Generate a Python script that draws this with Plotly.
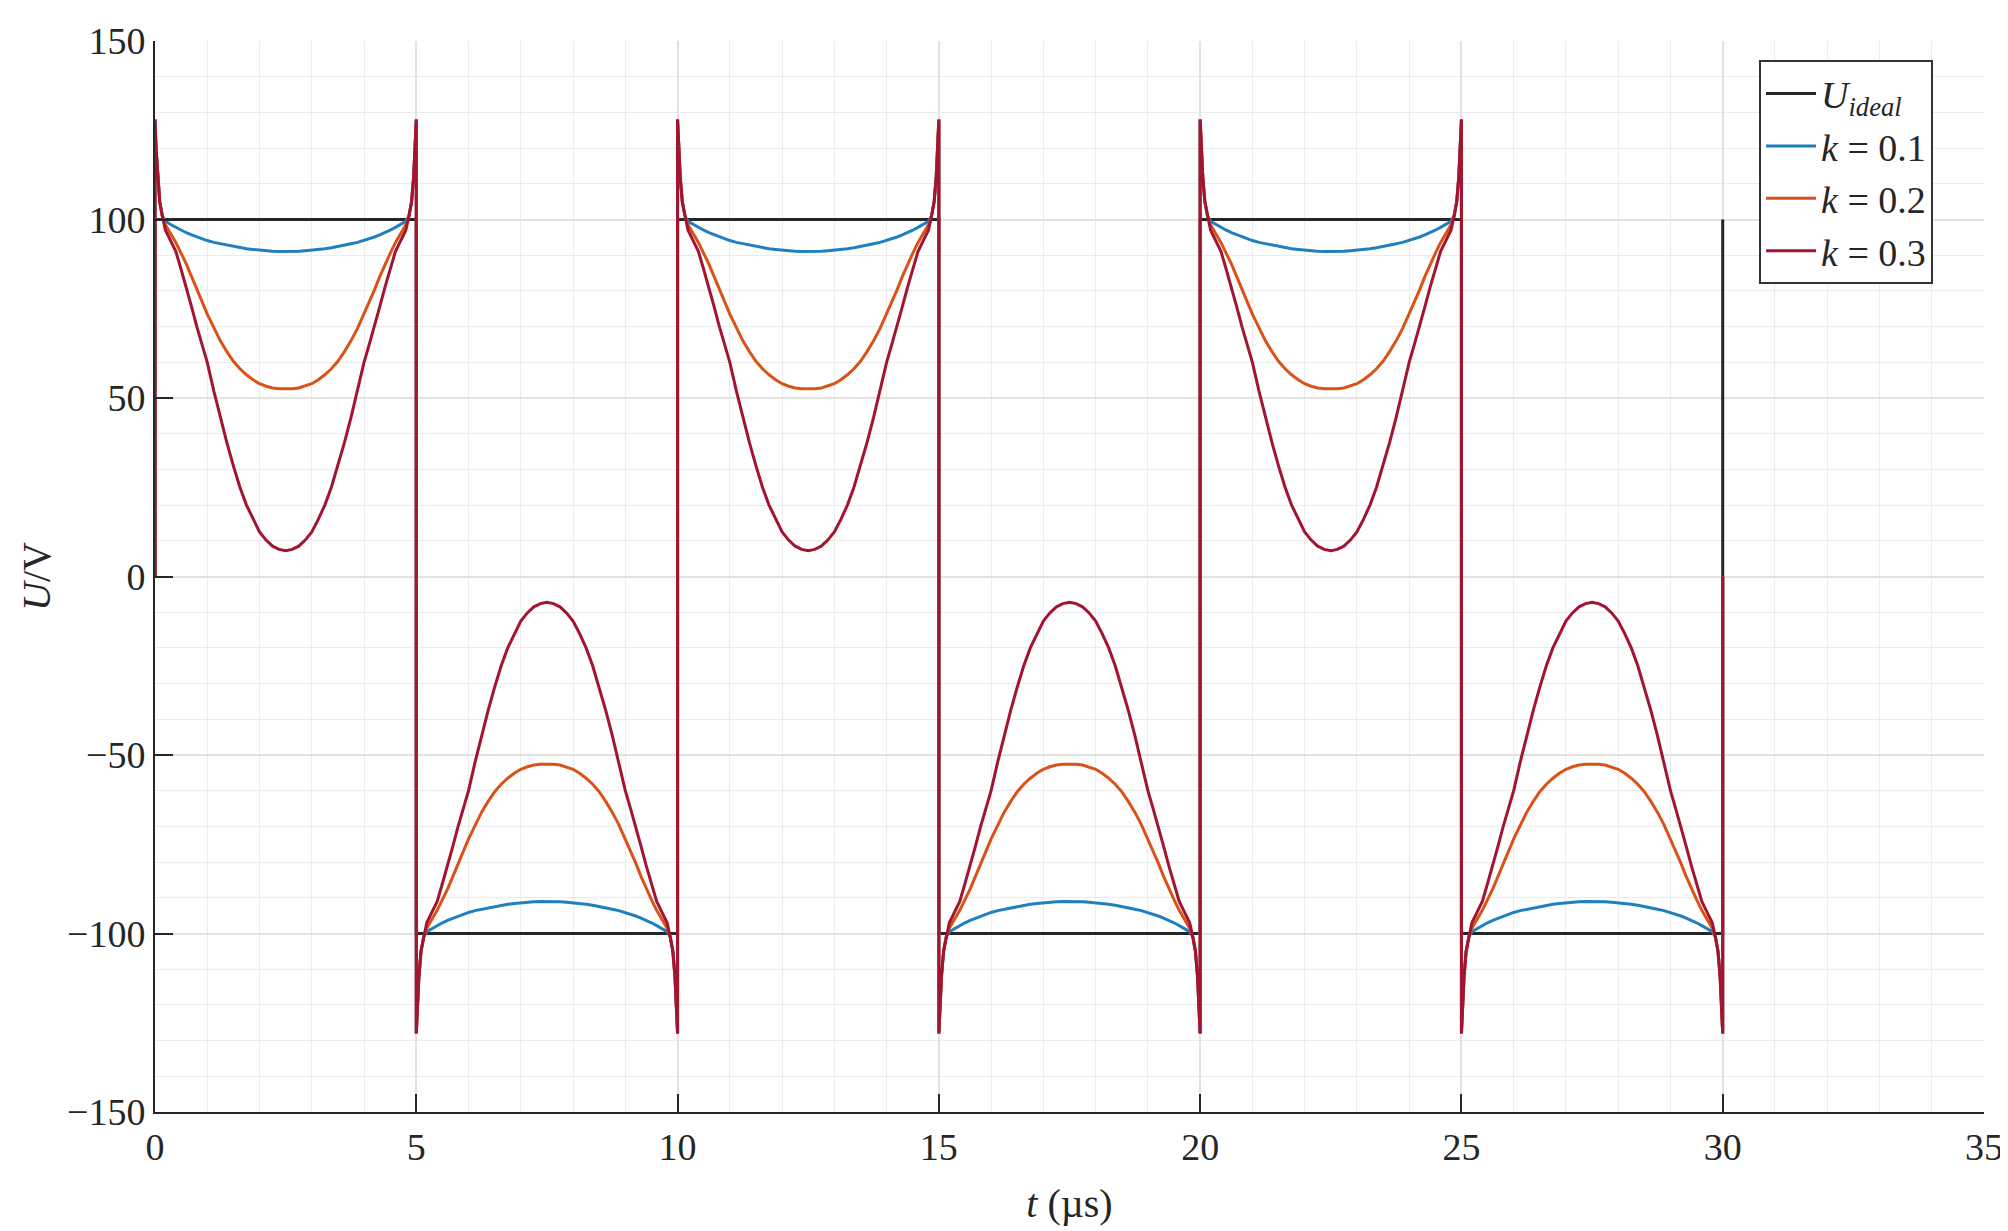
import plotly.graph_objects as go

# Ideal square wave (V) over t (µs)
ideal_t = [0, 0, 5, 5, 10, 10, 15, 15, 20, 20, 25, 25, 30, 30]
ideal_u = [0, 100, 100, -100, -100, 100, 100, -100, -100, 100, 100, -100, -100, 100]

# One half period (positive polarity), offsets in µs
half_t = [0, 0.02, 0.05, 0.09, 0.14,
          0.2, 0.3, 0.4, 0.5, 0.6, 0.7, 0.8, 0.9, 1.0, 1.125, 1.25, 1.375, 1.5, 1.625, 1.75, 1.875,
          2.0, 2.125, 2.25, 2.375, 2.5,
          2.625, 2.75, 2.875, 3.0, 3.125, 3.25, 3.375, 3.5, 3.625, 3.75, 3.875, 4.0, 4.1, 4.2, 4.3,
          4.4, 4.5, 4.6, 4.7, 4.8,
          4.86, 4.91, 4.95, 4.98, 5.0]
half_k01 = [128, 120, 112, 105, 101,
            99.5, 98.6, 97.8, 97.0, 96.3, 95.7, 95.1, 94.6, 94.1, 93.6, 93.2, 92.8, 92.4, 92.1, 91.8, 91.6,
            91.4, 91.25, 91.1, 91.05, 91.0,
            91.05, 91.1, 91.25, 91.4, 91.6, 91.8, 92.1, 92.4, 92.8, 93.2, 93.6, 94.1, 94.6, 95.1, 95.7,
            96.3, 97.0, 97.8, 98.6, 99.5,
            101, 105, 112, 120, 128]
half_k02 = [128, 120, 112, 105, 101,
            98.5, 96.0, 93.5, 90.5, 87.5, 84.0, 80.3, 77.0, 73.5, 69.5, 66.0, 63.0, 60.3, 58.2, 56.5, 55.1,
            54.0, 53.3, 52.8, 52.6, 52.5,
            52.6, 52.8, 53.3, 54.0, 55.1, 56.5, 58.2, 60.3, 63.0, 66.0, 69.5, 73.5, 77.0, 80.3, 84.0,
            87.5, 90.5, 93.5, 96.0, 98.5,
            101, 105, 112, 120, 128]
half_k03 = [128, 120, 112, 105, 101,
            97.0, 94.0, 91.0, 86.0, 81.0, 75.5, 70.0, 65.0, 60.0, 52.0, 44.5, 37.5, 31.0, 25.0, 20.0, 16.0,
            12.5, 10.2, 8.5, 7.6, 7.2,
            7.6, 8.5, 10.2, 12.5, 16.0, 20.0, 25.0, 31.0, 37.5, 44.5, 52.0, 60.0, 65.0, 70.0, 75.5,
            81.0, 86.0, 91.0, 94.0, 97.0,
            101, 105, 112, 120, 128]

n_half = 6
half_len = 5


def build_wave(profile):
    # start at 0, then alternate polarity each half period, back to 0 at the end
    ts, us = [0], [0]
    for n in range(n_half):
        sign = 1 if n % 2 == 0 else -1
        for dt, u in zip(half_t, profile):
            ts.append(n * half_len + dt)
            us.append(sign * u)
    ts.append(n_half * half_len)
    us.append(0)
    return ts, us


serif = "Liberation Serif"
txt = "#262626"

fig = go.Figure()
fig.add_trace(go.Scatter(x=ideal_t, y=ideal_u, mode="lines", name="<i>U</i><sub><i>ideal</i></sub>",
                         line=dict(color="#262626", width=3)))
for name, prof, col in [("<i>k</i> = 0.1", half_k01, "#1f7fbf"),
                        ("<i>k</i> = 0.2", half_k02, "#D95319"),
                        ("<i>k</i> = 0.3", half_k03, "#A2142F")]:
    t, u = build_wave(prof)
    fig.add_trace(go.Scatter(x=t, y=u, mode="lines", name=name, line=dict(color=col, width=3)))

axis_common = dict(
    showline=True, linecolor="#262626", linewidth=2, mirror=False,
    ticks="inside", ticklen=18, tickwidth=2, tickcolor="#262626",
    showgrid=True, gridcolor="#e2e2e2", gridwidth=1.5,
    zeroline=False,
    tickfont=dict(family=serif, size=38, color=txt),
)

fig.update_layout(
    width=2008, height=1231,
    margin=dict(l=147, r=32, t=28, b=127),
    paper_bgcolor="white", plot_bgcolor="white",
    font=dict(family=serif, color=txt),
    xaxis=dict(range=[0, 35], tick0=0, dtick=5,
               minor=dict(dtick=1, showgrid=True, gridcolor="#ececec", gridwidth=1),
               title=dict(text="<i>t</i> (µs)", font=dict(family=serif, size=40, color=txt), standoff=22),
               **axis_common),
    yaxis=dict(range=[-150, 150], tick0=-150, dtick=50,
               minor=dict(dtick=10, showgrid=True, gridcolor="#ececec", gridwidth=1),
               title=dict(text="<i>U</i>/V", font=dict(family=serif, size=40, color=txt), standoff=4),
               **axis_common),
    legend=dict(x=0.877, y=0.982, xanchor="left", yanchor="top",
                bgcolor="white", bordercolor="#333333", borderwidth=2,
                font=dict(family=serif, size=38, color=txt),
                itemwidth=50, tracegroupgap=0),
    showlegend=True,
)

fig.write_html("out.html")
